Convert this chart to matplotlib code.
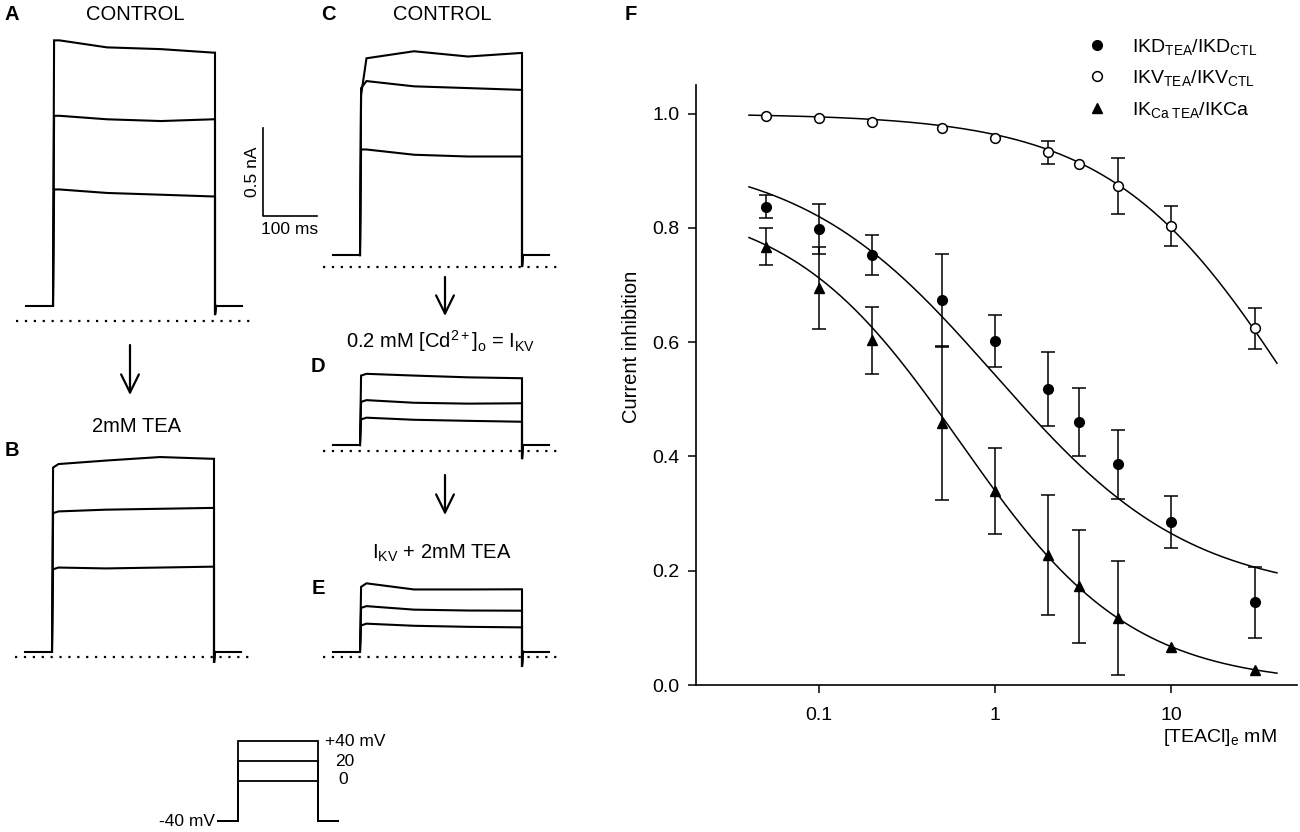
import numpy as np
import matplotlib
matplotlib.use("Agg")
import matplotlib.pyplot as plt
from matplotlib.patches import FancyArrowPatch
from matplotlib.ticker import NullLocator

W, H = 1300, 832

plt.rcParams['font.family'] = ['Liberation Sans', 'DejaVu Sans']
plt.rcParams['mathtext.fontset'] = 'custom'
plt.rcParams['mathtext.rm'] = 'Liberation Sans'
plt.rcParams['mathtext.it'] = 'Liberation Sans:italic'
plt.rcParams['mathtext.bf'] = 'Liberation Sans:bold'

# ---- panel F data: TEA dose response ----
conc = np.array([0.05, 0.1, 0.2, 0.5, 1, 2, 3, 5, 10, 30])
ikd = np.array([0.837, 0.798, 0.752, 0.673, 0.602, 0.518, 0.460, 0.386, 0.285, 0.145])
ikd_err = np.array([0.02, 0.043, 0.035, 0.081, 0.045, 0.064, 0.06, 0.06, 0.045, 0.062])
ikv = np.array([0.995, 0.992, 0.985, 0.974, 0.958, 0.932, 0.911, 0.874, 0.803, 0.624])
ikv_err = np.array([0, 0, 0, 0, 0, 0.02, 0, 0.049, 0.035, 0.036])
ikca = np.array([0.767, 0.695, 0.603, 0.459, 0.340, 0.227, 0.173, 0.117, 0.067, 0.026])
ikca_err = np.array([0.032, 0.072, 0.058, 0.135, 0.075, 0.105, 0.099, 0.1, 0, 0])

# hill fits: top, bottom, ic50 (mM), slope
ikd_fit = (0.93, 0.155, 1.0, 0.78)
ikv_fit = (1.0, 0.0, 54.6, 0.816)
ikca_fit = (0.85, 0.0, 0.634, 0.89)
fit_range = (0.04, 40)

yticks = [0.0, 0.2, 0.4, 0.6, 0.8, 1.0]
ytick_labels = ['0.0', '0.2', '0.4', '0.6', '0.8', '1.0']
xticks = [0.1, 1, 10]
xtick_labels = ['0.1', '1', '10']

# ---- current traces (nA), read at these times (ms) in the 300 ms step ----
trace_t = [2, 12, 100, 200, 297]
step_ms = 300
a_base, a_tail = 0.086, 0.034
a_traces = [[1.60, 1.60, 1.56, 1.55, 1.53],
            [1.17, 1.17, 1.15, 1.14, 1.15],
            [0.75, 0.75, 0.73, 0.72, 0.71]]
b_base, b_tail = 0.029, -0.034
b_traces = [[1.08, 1.10, 1.12, 1.14, 1.13],
            [0.82, 0.83, 0.84, 0.845, 0.85],
            [0.50, 0.51, 0.505, 0.51, 0.515]]
c_base, c_tail = 0.068, 0.0
c_traces = [[0.98, 1.19, 1.23, 1.20, 1.22],
            [1.02, 1.06, 1.03, 1.02, 1.01],
            [0.67, 0.67, 0.64, 0.63, 0.63]]
d_base, d_tail = 0.034, -0.046
d_traces = [[0.43, 0.44, 0.43, 0.42, 0.415],
            [0.28, 0.29, 0.275, 0.27, 0.272],
            [0.18, 0.19, 0.178, 0.172, 0.167]]
e_base, e_tail = 0.03, -0.055
e_traces = [[0.40, 0.42, 0.385, 0.385, 0.386],
            [0.28, 0.29, 0.27, 0.265, 0.264],
            [0.18, 0.19, 0.178, 0.172, 0.169]]

scale_ms = 100
scale_na = 0.5

# voltage protocol (mV)
hold_mv = -40
step_mv = [0, 20, 40]

fig = plt.figure(figsize=(W / 100, H / 100), dpi=100)


def px_axes(x0, y0, x1, y1):
    return fig.add_axes([x0 / W, 1 - y1 / H, (x1 - x0) / W, (y1 - y0) / H])


def ftext(x, y, s, **kw):
    fig.text(x / W, 1 - y / H, s, **kw)


def farrow(x, y0, y1):
    arr = FancyArrowPatch((x / W, 1 - y0 / H), (x / W, 1 - y1 / H),
                          transform=fig.transFigure,
                          arrowstyle='->,head_length=0.65,head_width=0.32',
                          mutation_scale=20, lw=1.6, color='k',
                          shrinkA=0, shrinkB=0)
    fig.add_artist(arr)


PX_MS = 0.54     # pixels per ms
PX_NA = 175.4    # pixels per nA


def trace_axes(t0_px, zero_px, hi):
    lo = -0.15
    ax = px_axes(t0_px - 80 * PX_MS, zero_px - hi * PX_NA,
                 t0_px + 390 * PX_MS, zero_px - lo * PX_NA)
    ax.set_xlim(-80, 390)
    ax.set_ylim(lo, hi)
    ax.set_axis_off()
    return ax


def draw_traces(ax, base, tail, traces):
    kw = dict(color='k', lw=1.5, clip_on=False, solid_joinstyle='miter')
    ax.plot([-50, 0], [base, base], **kw)
    ax.plot([step_ms, step_ms + 50], [base, base], **kw)
    for lvl in traces:
        t = [0] + trace_t + [step_ms, step_ms, step_ms + 1.5]
        i = [base] + lvl + [lvl[-1], tail, base]
        ax.plot(t, i, **kw)
    ax.plot([-68, 370], [0, 0], color='k', lw=1.6, ls=(0, (1, 3)),
            dash_capstyle='butt', clip_on=False)


axA = trace_axes(53, 321, 1.75)
draw_traces(axA, a_base, a_tail, a_traces)
axB = trace_axes(52, 657, 1.75)
draw_traces(axB, b_base, b_tail, b_traces)
axC = trace_axes(360, 267, 1.75)
draw_traces(axC, c_base, c_tail, c_traces)
axD = trace_axes(360, 451, 0.7)
draw_traces(axD, d_base, d_tail, d_traces)
axE = trace_axes(360, 657, 0.7)
draw_traces(axE, e_base, e_tail, e_traces)

# scale bar in panel A
sb_t, sb_i = 389, 0.6
axA.plot([sb_t, sb_t, sb_t + scale_ms], [sb_i + scale_na, sb_i, sb_i],
         color='k', lw=1.2, clip_on=False)
axA.text(sb_t - 20, sb_i + scale_na / 2, '%.1f nA' % scale_na, rotation=90,
         ha='center', va='center', fontsize=12.5)
axA.text(sb_t + scale_ms / 2, sb_i - 0.08, '%d ms' % scale_ms,
         ha='center', va='center', fontsize=12.5)

# voltage protocol
PX_MS_V = 80 / 300.0
axV = px_axes(238 - 100 * PX_MS_V, 731, 238 + 400 * PX_MS_V, 831)
axV.set_xlim(-100, 400)
axV.set_ylim(-50, 50)
axV.set_axis_off()
for v in step_mv:
    axV.plot([-75, 0, 0, step_ms, step_ms, step_ms + 75],
             [hold_mv, hold_mv, v, v, hold_mv, hold_mv],
             color='k', lw=1.3, clip_on=False, solid_joinstyle='miter')
axV.text(-86, hold_mv, '%d mV' % hold_mv, ha='right', va='center', fontsize=12.5)
axV.text(326, 39, '+%d mV' % step_mv[2], ha='left', va='center', fontsize=12.5)
axV.text(364, 20, '%d' % step_mv[1], ha='left', va='center', fontsize=12.5)
axV.text(375, 2, '%d' % step_mv[0], ha='left', va='center', fontsize=12.5)

# labels for trace panels
lab = dict(fontsize=14.5, fontweight='bold', ha='center', va='center')
ftext(12, 15, 'A', **lab)
ftext(12, 450, 'B', **lab)
ftext(328, 14, 'C', **lab)
ftext(318, 367, 'D', **lab)
ftext(318, 589, 'E', **lab)
ftext(631, 14, 'F', **lab)

cap = dict(fontsize=14.5, ha='center', va='center')
ftext(135, 15, 'CONTROL', **cap)
ftext(137, 427, '2mM TEA', **cap)
ftext(442, 14, 'CONTROL', **cap)
ftext(441, 341, r'0.2 mM [Cd$^{\mathregular{2+}}$]$_{\mathregular{o}}$ = I$_{\mathregular{KV}}$', **cap)
ftext(442, 553, r'I$_{\mathregular{KV}}$ + 2mM TEA', **cap)

farrow(130, 345, 395)
farrow(445, 277, 316)
farrow(445, 475, 515)

# ---- panel F ----
axF = px_axes(696, 85, 1297, 685)
axF.set_xscale('log')
axF.set_xlim(0.02, 52)
axF.set_ylim(0, 1.05)
for s in ['top', 'right']:
    axF.spines[s].set_visible(False)
for s in ['left', 'bottom']:
    axF.spines[s].set_linewidth(1.2)


def hill(x, top, bottom, k, n):
    return bottom + (top - bottom) / (1 + (x / k) ** n)


xs = np.logspace(np.log10(fit_range[0]), np.log10(fit_range[1]), 300)
for p in [ikd_fit, ikv_fit, ikca_fit]:
    axF.plot(xs, hill(xs, *p), color='k', lw=1.1, zorder=1)

for y, e in [(ikd, ikd_err), (ikv, ikv_err), (ikca, ikca_err)]:
    m = e > 0
    axF.errorbar(conc[m], y[m], yerr=e[m], fmt='none', ecolor='k',
                 elinewidth=1.1, capsize=4.7, capthick=1.1, zorder=2)

h1, = axF.plot(conc, ikd, 'o', color='k', ms=7, zorder=3,
               label=r'IKD$_{\mathregular{TEA}}$/IKD$_{\mathregular{CTL}}$')
h2, = axF.plot(conc, ikv, 'o', mfc='white', mec='k', mew=1.1, ms=7, zorder=3,
               label=r'IKV$_{\mathregular{TEA}}$/IKV$_{\mathregular{CTL}}$')
h3, = axF.plot(conc, ikca, '^', color='k', ms=7.5, zorder=3,
               label=r'IK$_{\mathregular{Ca\ TEA}}$/IKCa')

axF.set_xticks(xticks)
axF.set_xticklabels(xtick_labels)
axF.xaxis.set_minor_locator(NullLocator())
axF.set_yticks(yticks)
axF.set_yticklabels(ytick_labels)
axF.tick_params(direction='out', length=6, width=1.1, labelsize=14)
axF.tick_params(axis='x', pad=10)
axF.tick_params(axis='y', pad=6)

axF.set_ylabel('Current inhibition', fontsize=14.5)
axF.yaxis.set_label_coords(-0.092, 0.563)
axF.set_xlabel(r'[TEACl]$_{\mathregular{e}}$ mM', fontsize=14, va='center')
axF.xaxis.set_label_coords(0.872, -0.087)

fig.legend(handles=[h1, h2, h3], loc='upper left',
           bbox_to_anchor=(1087 / W, 1 - 37 / H), frameon=False,
           fontsize=14, numpoints=1, handlelength=1.0, handletextpad=1.3,
           borderpad=0, borderaxespad=0, labelspacing=0.58)

fig.savefig('out.png', dpi=100)
